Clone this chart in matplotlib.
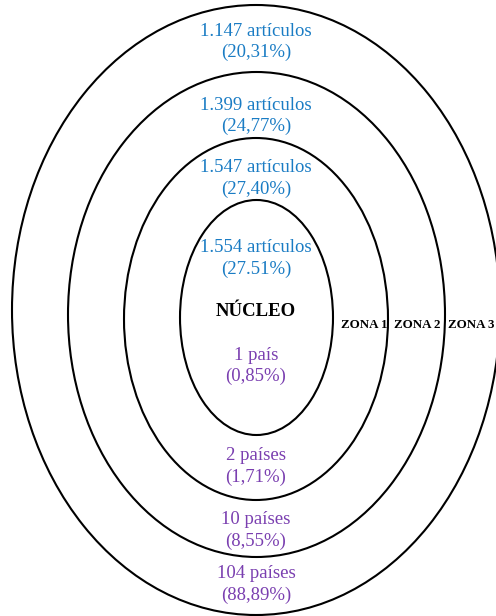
import matplotlib
matplotlib.use("Agg")
import matplotlib.pyplot as plt
from matplotlib.patches import Ellipse

articulos = ["1.147 artículos", "1.399 artículos", "1.547 artículos", "1.554 artículos"]
art_pct = ["(20,31%)", "(24,77%)", "(27,40%)", "(27.51%)"]
paises = ["1 país", "2 países", "10 países", "104 países"]
pais_pct = ["(0,85%)", "(1,71%)", "(8,55%)", "(88,89%)"]
zonas = ["ZONA 1", "ZONA 2", "ZONA 3"]
nucleo = "NÚCLEO"

BLUE = "#1a7cc4"
PURPLE = "#7a3fb0"

fig = plt.figure(figsize=(4.96, 6.16), dpi=100)
ax = fig.add_axes([0, 0, 1, 1])
ax.set_xlim(0, 496)
ax.set_ylim(616, 0)
ax.axis("off")

# ellipses: (cx, cy, w, h) outer -> inner
ells = [(256, 310, 488, 610), (256.5, 314.5, 377, 485), (256, 319, 264, 362), (256.5, 317.5, 153, 235)]
for cx, cy, w, h in ells:
    ax.add_patch(Ellipse((cx, cy), w, h, fill=False, edgecolor="black", lw=1.5))

font = dict(family="Liberation Serif", fontsize=13.5, ha="center", va="center")
cx = 256
art_y = [31, 105, 168, 248]
for lab, pct, y in zip(articulos, art_pct, art_y):
    ax.text(cx, y, lab, color=BLUE, **font)
    ax.text(cx, y + 21, pct, color=BLUE, **font)

pais_y = [355, 456, 520, 574]
for lab, pct, y in zip(paises, pais_pct, pais_y):
    ax.text(cx, y, lab, color=PURPLE, **font)
    ax.text(cx, y + 21, pct, color=PURPLE, **font)

ax.text(cx, 311, nucleo, family="Liberation Serif", fontsize=13.5, fontweight="bold",
        ha="center", va="center", color="black")

zona_x = [364.5, 417, 471]
for z, x in zip(zonas, zona_x):
    ax.text(x, 325, z, family="Liberation Serif", fontsize=9.4, fontweight="bold",
            ha="center", va="center", color="black")

fig.savefig("out.png", dpi=100)
